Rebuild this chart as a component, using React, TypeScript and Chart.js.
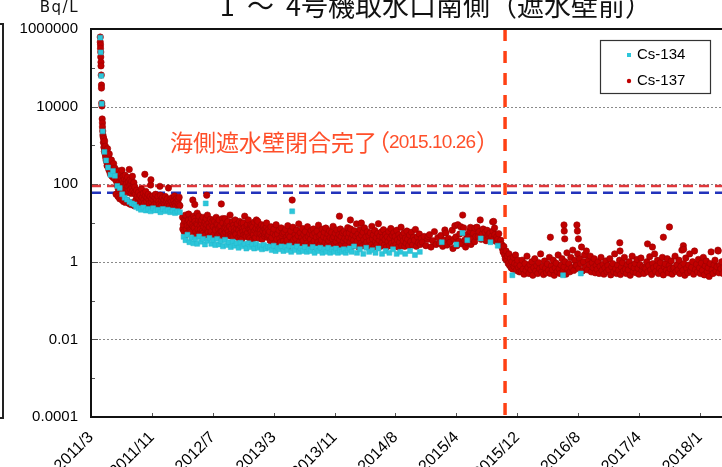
import React, { useEffect, useRef } from "react";
import { Chart, registerables } from "chart.js";

Chart.register(...registerables);

// ---------- data ----------
const xTickDays = [0, 250, 500, 750, 1000, 1250, 1500, 1750, 2000, 2250, 2500];
const xTickLabels = ["2011/3", "2011/11", "2012/7", "2013/3", "2013/11", "2014/8", "2015/4", "2015/12", "2016/8", "2017/4", "2018/1"];
const yTickValues = [0.0001, 0.01, 1, 100, 10000, 1000000];
const yTickLabels = ["0.0001", "0.01", "1", "100", "10000", "1000000"];
const seriesNames = ["Cs-134", "Cs-137"];
const limitCs137 = 90;
const limitCs134 = 60;
const wallClosedDay = 1700; // 2015.10.26
const titleText = "1  ～  4号機取水口南側（遮水壁前）";
const unitText = "Bq/L";
const annotationText = "海側遮水壁閉合完了";
const annotationDate = "2015.10.26";

type Pt = [number, number];

const cs137Spike: Pt[] = [[38,620000],[38,460000],[39,390000],[39,320000],[40,255000],[40,190000],[41,140000],[41,112000],[42,65000],[43,36000],[43,30000],[44,12300],[45,10400],[46,4800],[47,3800],[47,3000],[48,2350],[49,1860]];
const cs137Early2011: Pt[] = [[50,1650],[51,1200],[52,1500],[53,900],[54,1100],[55,700],[56,1300],[57,800],[58,600],[59,950],[60,500],[61,750],[62,420],[63,650],[64,380],[65,540],[66,300],[67,460],[68,820],[69,350],[70,280],[71,520],[72,400],[73,240],[74,330],[75,600],[76,260],[77,210],[78,380],[79,300],[80,180],[82,250],[84,420],[85,200],[86,160],[88,290],[90,230],[91,150],[93,340],[95,190],[96,140],[98,260],[100,170],
[102,210],[103,55],[104,120],[105,160],[107,95],[109,180],[110,130],[111,48],[112,75],[114,220],[115,110],[117,150],[118,42],[119,85],[120,190],[122,100],[124,140],[125,70],[126,40],[127,230],[129,120],[130,90],[132,160],[133,36],[134,65],[135,110],[137,135],[139,80],[140,170],[141,34],[142,95],[144,60],[145,125],[147,105],[148,38],[149,75],[150,150],[152,88],[154,115],[155,68],[156,32],[157,240],[159,95],[160,130],[162,72],[163,30],[164,100],[165,58],[167,120],[169,82],[170,160],[171,34],[172,66],[174,98],[176,110],[177,28],[178,60],[180,85]];
const cs137Late2011: Pt[] = [[182,55],[185,40],[187,70],[190,48],[192,35],[195,62],[197,44],[200,30],[202,52],[205,38],[207,75],[210,45],[212,28],[215,58],[217,40],[220,33],[221,180],[223,50],[225,65],[228,36],[230,45],[233,27],[235,55],[238,40],[240,32],[243,48],[245,95],[246,130],[248,35],[250,42],[253,26],[255,50],[258,38],[260,30],[263,45],[265,55],[268,33],[270,40],[273,25],[275,48],[278,36],[280,30],[283,88],[285,52],[288,28],[290,38],[293,45],[295,24],[298,35],[300,40],[303,30],[305,48],[308,26],[310,36],[313,42],[315,30],[318,80],[320,34],[323,28],[325,40],[328,24],[330,36],[333,45],[335,30],[338,26],[340,38],[343,50],[345,32],[348,28],[350,42],[353,35],[355,25],[358,40],[360,30],[362,46],[365,28]];
const cs137Y2012: Pt[] = [[376,14],[377,7],[379,9],[382,6],[383,12],[385,11],[388,16],[389,5],[391,7],[394,10],[395,8.5],[397,5.5],[400,12],[401,17],[403,8],[406,6.8],[407,10],[409,6.5],[412,13],[413,6],[415,9],[418,39],[419,8],[421,15],[424,7.5],[425,13],[426,30],[427,11],[430,6],[431,4.6],[433,9.5],[436,18],[437,9],[439,7],[442,12],[443,15],[445,5.2],[448,8.5],[449,6.8],[451,11],[454,10],[455,12],[457,6.2],[460,14],[461,5.5],[463,8],[466,4.8],[467,9.8],[469,11],[472,7],[473,13],[475,52],[476,9],[478,16],[479,6.4],[481,5.8],[484,10],[485,8],[487,7.8],[490,12.5],[491,5],[493,6],[496,9],[497,11],[499,4.5],
[502,8],[504,12],[505,5],[508,11],[510,7],[511,6.5],[514,14],[516,9.5],[517,4.5],[520,9],[522,5],[523,7],[526,12],[528,8],[529,5.5],[532,8.5],[534,6],[535,31],[538,6],[540,13],[541,10],[544,4],[546,5.3],[547,7.5],[550,13],[552,7.8],[553,5.8],[556,9],[558,10],[559,6.8],[562,11],[564,6],[565,4.8],[568,8],[570,8.2],[571,16],[574,5.2],[576,4.6],[577,7],[580,10],[582,11],[583,4.4],[586,8.8],[588,7.3],[589,6],[592,12],[594,5.4],[595,5],[598,7.2],[600,9],[601,9.5],[604,4.2],[606,6.8],[607,6.5],[610,11],[612,4.7],[613,5.5],[616,8],[618,10],[619,3.8],[622,7],[624,6],[625,10],[628,5],[630,7.7],[631,15],[634,6.3],[636,5.1],[637,4.5],[640,8.5],[642,9.2],[643,5.6],[646,12],[648,4.4],[649,7],[652,4],[654,6.9],[655,9],[658,6],[660,8.6],[661,3.6],[664,7.8],[666,5.7],[667,5],[670,10.5],[672,4.1],[673,6.5],[676,4.2],[678,7.2],[679,12],[682,5.4],[684,9],[685,11],[688,6.8],[690,5.5],[691,4],[694,7.5],[696,6.4],[697,5.2],[700,9],[702,4.5],[703,3.8],[706,6.2],[708,7.6],[709,8.4],[712,4.6],[714,5.3],[715,7],[718,5.8],[720,8],[721,10],[724,4.3],[726,4.8],[727,6.6],[730,5]];
const cs137Y2013: Pt[] = [[733,6],[736,3.5],[739,8],[742,4.2],[745,2.6],[748,5.5],[751,7],[754,3],[757,4.8],[760,9],[763,3.8],[766,5.2],[769,2.4],[772,6.5],[775,4],[778,3.2],[781,7.5],[784,4.6],[787,5.4],[790,3.4],[793,5.8],[796,2.8],[799,6.8],[802,4.3],[805,3.6],[808,8.5],[811,5],[814,2.5],[817,4.4],[820,6.2],[823,3.1],[826,39],[829,7.8],[832,3.7],[835,2.3],[838,5],[841,4],[844,6.6],[847,2.9],[850,4.7],[853,9.5],[856,3.3],[859,5.6],[862,2.7],[865,4.2],[868,7.2],[871,3.5],[874,5.1],[877,2.2],[880,6],[883,4.1],[886,3],[889,8],[892,4.5],[895,2.6],[898,5.3],[901,3.8],[904,6.4],[907,2.9],[910,4.9],[913,7],[916,3.4],[919,5.5],[922,2.4],[925,4.3],[928,6.2],[931,3.2],[934,8.8],[937,4.6],[940,2.8],[943,5],[946,3.6],[949,6.9],[952,2.5],[955,4.4],[958,5.8],[961,3.1],[964,7.4],[967,4],[970,2.7],[973,5.2],[976,3.5],[979,6.3],[982,4.2],[985,2.6],[988,5.7],[991,3.9],[994,8.2],[997,4.4],[1000,2.9],[1003,5.4],[1006,3.3],[1009,6.6],[1012,4.1],[1015,2.5],[1018,5],[1020,15],[1021,3.7],[1024,7],[1027,4.5],[1030,2.8],[1033,5.6],[1036,3.4],[1039,6.1],[1042,4],[1045,2.6],[1048,5.3],[1051,3.6],[1054,7.6],[1057,4.3]];
const cs137Y2014: Pt[] = [[1060,5.5],[1063,3.2],[1065,12],[1066,7],[1069,4],[1072,2.5],[1075,5],[1078,3.6],[1081,6.3],[1084,2.8],[1087,4.5],[1090,9.5],[1093,3.4],[1096,5.2],[1099,2.4],[1102,4.1],[1105,6.8],[1108,3],[1110,10],[1111,4.8],[1114,2.6],[1117,5.8],[1120,3.7],[1123,7.5],[1126,2.9],[1129,4.4],[1132,3.2],[1135,6],[1138,2.5],[1141,4.7],[1144,3.5],[1147,5.5],[1150,2.7],[1153,8.2],[1156,3.9],[1159,4.9],[1162,2.4],[1165,6.4],[1168,3.3],[1171,4.2],[1174,2.8],[1177,5.4],[1180,9.6],[1183,3.6],[1186,4.6],[1189,2.5],[1192,5.9],[1195,3.1],[1198,4.3],[1201,6.7],[1204,2.7],[1207,3.8],[1210,5.1],[1213,2.4],[1216,4.4],[1219,3.3],[1222,6.1],[1225,2.6],[1228,4],[1231,7.2],[1234,3],[1237,4.8],[1240,2.5],[1243,5.6],[1246,3.4],[1249,4.5],[1252,2.8],[1255,6.5],[1258,3.7],[1261,2.4],[1264,5],[1267,3.2],[1270,4.2],[1273,7.8],[1276,2.6],[1279,4.7],[1282,3.5],[1285,5.5],[1288,2.5],[1291,4.1],[1294,3],[1297,6.2],[1300,3.8],[1304,2.6],[1308,4.9],[1312,3.3],[1316,5.8],[1320,2.7],[1324,4.3],[1328,3.6],[1332,6.8],[1336,2.5],[1340,4.4],[1344,3.1],[1348,5.2],[1352,2.8],[1356,4]];
const cs137Y2015: Pt[] = [[1360,3.2],[1368,4.5],[1375,2.6],[1382,3.8],[1384,4.5],[1390,5],[1396,2.4],[1403,3.5],[1410,6],[1417,2.8],[1424,4.2],[1430,3],[1437,4.8],[1444,2.5],[1450,3.6],[1453,6.6],[1457,5.5],[1462,2.7],[1468,4],[1474,3.2],[1483,6.5],[1486,2.2],[1490,3.8],[1494,8.5],[1498,4.4],[1502,2.6],[1506,9],[1510,3.4],[1514,5.2],[1518,8],[1522,2.9],[1526,16],[1530,7.5],[1534,3.6],[1538,2.4],[1542,5],[1546,3.1],[1550,4.3],[1555,6.2],[1558,7.7],[1560,2.8],[1565,3.9],[1570,5.4],[1575,3.3],[1576,7.4],[1580,4.5],[1585,7.8],
[1590,4.5],[1594,6],[1598,12],[1602,3.8],[1606,5.2],[1610,7],[1614,4],[1618,5.8],[1622,3.5],[1626,6.5],[1630,4.8],[1634,5.2],[1638,5.5],[1642,3.6],[1646,4.6],[1649,10.7],[1650,6.2],[1653,11],[1654,4],[1657,7.5],[1658,5],[1662,3.4],[1666,4.4],[1670,3.8],[1674,5.3],[1678,3],[1682,3.6],
[1686,2.8],[1689,2.2],[1692,1.8],[1695,2.5],[1698,1.5],[1701,1.2],[1704,1.9],[1707,1.1],[1710,1.4],[1713,0.9],[1716,1.6],[1719,0.8],[1722,1.2],[1725,0.7],[1728,1],[1731,0.65],[1734,1.3],[1737,0.75],[1740,0.9],[1743,1.5],[1746,0.6],[1749,0.85],[1752,1.1],[1755,0.7],[1758,0.55]];
const cs137Y2016to2018: Pt[] = [[1762,0.8],[1766,0.55],[1770,1.1],[1774,0.65],[1778,0.48],[1782,0.9],[1786,0.6],[1790,1.4],[1794,0.72],[1798,0.5],[1802,0.85],[1806,0.62],[1810,1.0],[1814,0.45],[1818,0.7],[1822,1.2],[1826,0.58],[1830,0.8],[1834,0.5],[1838,0.95],[1842,0.66],[1846,1.6],[1850,0.55],[1854,0.75],[1858,0.47],[1862,1.05],[1866,0.68],[1870,0.52],[1874,0.88],[1878,0.6],[1882,1.3],[1886,0.5],[1890,0.78],[1894,0.62],[1898,1.1],[1902,0.45],[1906,0.7],[1910,0.92],[1914,0.56],[1918,1.5],[1922,0.66],[1926,0.5],[1930,0.82],[1934,1.2],[1938,0.58],[1942,0.74],[1946,1.0],[1950,0.48],[1954,1.7],[1958,0.64],[1962,0.9],[1966,0.55],[1970,1.3],[1974,0.7],[1978,2.0],[1982,0.6],[1986,1.1],[1990,0.8],[1994,0.8],[1998,1.6],[2002,0.66],[2006,1.2],[2010,0.9],[2014,2.4],[2018,0.58],[2022,1.0],[2026,1.5],[2030,0.72],[2034,1.9],[2038,0.62],[2042,1.1],[2046,0.85],[2050,1.4],[2054,0.55],[2058,0.95],[2062,0.7],[2066,1.2],[2070,0.52],[2074,0.8],[2078,0.64],[2082,1.0],[2086,0.5],[2090,0.76],[2094,1.3],[2098,0.6],[2102,0.86],[2106,0.48],[2110,0.7],[2114,1.05],[2118,0.56],[2122,0.8],[2126,0.62],[2130,1.2],[2134,0.46],[2138,0.74],[2142,0.9],[2146,0.55],[2150,1.6],[2154,0.66],[2158,0.5],[2162,0.82],[2166,0.6],[2170,1.1],[2174,0.47],[2178,0.72],[2182,0.95],[2186,0.58],[2190,1.3],[2194,0.64],[2198,0.5],[2202,0.85],[2206,0.62],[2210,1.0],[2214,0.45],[2218,0.78],[2222,1.4],[2226,0.56],[2230,0.7],[2234,0.9],[2238,0.52],[2242,1.15],[2246,0.68],[2250,0.48],[2254,0.84],[2258,1.25],[2262,0.6],[2266,0.74],[2270,0.5],[2274,0.7],[2278,0.66],[2282,1.0],[2286,0.55],[2290,0.8],[2294,1.35],[2298,0.62],[2302,0.47],[2306,0.9],[2310,0.7],[2314,1.6],[2318,0.56],[2322,0.78],[2326,1.1],[2330,0.5],[2334,0.68],[2338,0.95],[2342,0.58],[2346,1.3],[2350,0.46],[2354,0.74],[2358,0.88],[2362,0.6],[2366,1.2],[2370,0.52],[2374,0.8],[2378,0.66],[2382,1.05],[2386,0.48],[2390,0.65],[2394,0.7],[2398,1.4],[2402,0.56],[2406,0.84],[2410,0.62],[2414,1.1],[2418,0.5],[2422,0.76],[2426,2.0],[2430,0.6],[2434,0.9],[2438,0.45],[2442,1.25],[2446,0.68],[2450,0.52],[2454,0.82],[2458,1.6],[2462,0.58],[2466,0.72],[2470,1.0],[2474,0.48],[2478,1.9],[2482,0.64],[2486,0.86],[2490,0.55],[2494,1.15],[2498,0.7],[2502,0.5],[2506,0.92],[2510,0.6],[2514,1.3],[2518,0.46],[2522,0.78],[2526,1.05],[2530,0.56],[2534,0.7],[2538,0.42],[2542,0.9],[2546,1.8],[2550,0.62],[2554,0.5],[2558,0.84],[2562,1.1],[2566,0.58],[2570,0.74],[2574,2.0],[2578,0.52],[2582,0.8],[2586,0.66],[2590,1.0],[2594,0.5],[2598,0.72]];
const cs137Outliers2016to2018: Pt[] = [[1942,8.9],[1943,6.2],[1945,3.9],[1995,8.9],[1997,6.2],[2001,3.9],[1886,4.3],[2171,3.1],[2172,1.9],[2285,2.9],[2350,4.3],[2375,7.9],[2305,2.4],[2432,2.6],[2433,2.1],[2575,1.9]];

const cs134Spike: Pt[] = [[38,600000],[40,250000],[42,62000],[44,11800],[48,2300]];
const cs134Early2011: Pt[] = [[55,680],[62,410],[70,270],[80,175],[90,220],[98,165],[108,90],[118,80],[128,55],[138,45],[148,40],[158,35],[168,32],[178,30]];
const cs134Late2011: Pt[] = [[185,26],[195,24],[205,22],[215,25],[225,21],[235,23],[245,20],[255,24],[265,21],[275,22],[285,19],[295,23],[305,20],[315,22],[325,19],[335,21],[345,18],[355,20],[365,19]];
const cs134Y2012: Pt[] = [[380,4.4],[388,3.6],[396,5],[404,3.2],[412,4.2],[420,3],[428,3.8],[436,2.9],[444,4.5],[452,3.3],[460,3.9],[468,2.8],[471,32],[478,3.5],[486,4.1],[494,2.9],[502,3.6],[510,2.7],[518,3.9],[526,2.8],[534,3.4],[542,2.5],[550,3.7],[558,2.7],[566,3.2],[574,2.4],[582,3.3],[590,2.6],[598,3],[606,2.3],[614,3.1],[622,2.5],[630,2.9],[638,2.2],[646,3],[654,2.4],[662,2.8],[670,2.2],[678,2.9],[686,2.3],[694,2.6],[702,2.1],[710,2.7],[718,2.2],[726,2.5]];
const cs134Y2013: Pt[] = [[734,2.4],[742,2],[750,2.6],[758,1.9],[766,2.3],[774,2.1],[782,2.5],[790,1.9],[798,2.4],[806,2],[814,2.6],[822,1.8],[826,20],[830,2.3],[838,2],[846,2.5],[854,1.8],[862,2.2],[870,1.9],[878,2.4],[886,1.8],[894,2.1],[902,1.9],[910,2.4],[918,1.7],[926,2.2],[934,1.9],[942,2.3],[950,1.7],[958,2.1],[966,1.8],[974,2.3],[982,1.7],[990,2.1],[998,1.8],[1006,2.2],[1014,1.7],[1022,2],[1030,1.8],[1038,2.1],[1046,1.7],[1054,2]];
const cs134Y2014to2018: Pt[] = [[1062,2.2],[1070,1.8],[1080,2.5],[1092,1.7],[1104,2.1],[1118,1.6],[1130,2.3],[1142,1.8],[1155,2],[1168,1.7],[1180,2.2],[1195,1.6],[1210,1.9],[1225,1.7],[1240,2.1],[1255,1.6],[1270,1.8],[1290,1.6],[1310,1.9],[1330,1.5],[1350,1.8],[1440,3.2],[1500,2.8],[1525,5.5],[1545,3.6],[1600,4],[1640,3.2],[1670,2.6],[1730,0.45],[1938,0.45],[2011,0.5]];

// ---------- layout constants ----------
const CANVAS_W = 780;
const CANVAS_H = 500;
const AXIS_LEFT = 91;
const AXIS_BOTTOM = 417;
const DAYS_PER_PX = 250 / 61.3;
const X_MAX = (CANVAS_W - AXIS_LEFT) * DAYS_PER_PX;

const FONT = "'Liberation Sans', Arial, sans-serif";
const CJK = "'Noto Sans CJK JP', 'Noto Sans CJK SC', sans-serif";
const RED = "#C00000";
const CYAN = "#2CC6DA";

const toXY = (...parts: Pt[][]) => parts.flat().map(([x, y]) => ({ x, y }));

const decor = {
  id: "decor",
  beforeDatasetsDraw(chart: any) {
    const { ctx, chartArea: a, scales } = chart;
    const y = scales.y;
    const x = scales.x;
    ctx.save();
    ctx.strokeStyle = "#8a8a8a";
    ctx.lineWidth = 1;
    ctx.setLineDash([2, 2]);
    yTickValues.forEach((v) => {
      const py = Math.round(y.getPixelForValue(v)) + 0.5;
      if (py > a.top + 3 && py < a.bottom - 3) {
        ctx.beginPath();
        ctx.moveTo(a.left, py);
        ctx.lineTo(a.right, py);
        ctx.stroke();
      }
    });
    ctx.setLineDash([]);
    ctx.strokeStyle = "#555";
    for (let e = -4; e <= 6; e++) {
      const py = Math.round(y.getPixelForValue(Math.pow(10, e))) + 0.5;
      const len = e % 2 === 0 ? 7 : 4;
      ctx.beginPath();
      ctx.moveTo(a.left, py);
      ctx.lineTo(a.left + len, py);
      ctx.stroke();
    }
    xTickDays.forEach((d) => {
      const px = Math.round(x.getPixelForValue(d)) + 0.5;
      ctx.beginPath();
      ctx.moveTo(px, a.bottom);
      ctx.lineTo(px, a.bottom - 4);
      ctx.stroke();
    });
    ctx.restore();
  },
  afterDatasetsDraw(chart: any) {
    const { ctx, chartArea: a } = chart;
    ctx.save();
    ctx.strokeStyle = "#111";
    ctx.lineWidth = 2;
    ctx.beginPath();
    ctx.moveTo(a.right + 2, a.top);
    ctx.lineTo(a.left, a.top);
    ctx.lineTo(a.left, a.bottom);
    ctx.lineTo(a.right + 2, a.bottom);
    ctx.stroke();

    ctx.lineWidth = 2;
    ctx.strokeStyle = "#222";
    ctx.beginPath();
    ctx.moveTo(0, 24);
    ctx.lineTo(3, 24);
    ctx.lineTo(3, 418);
    ctx.lineTo(0, 418);
    ctx.stroke();

    // annotation
    ctx.fillStyle = "#FF4F2A";
    ctx.textBaseline = "middle";
    ctx.textAlign = "left";
    ctx.font = `23px ${CJK}`;
    ctx.fillText(annotationText, 170, 142);
    const ax = 170 + ctx.measureText(annotationText).width;
    ctx.fillText("（", ax - 10, 142);
    ctx.font = `19px ${FONT}`;
    (ctx as any).letterSpacing = "-0.9px";
    ctx.fillText(annotationDate, 389, 143);
    const dw = ctx.measureText(annotationDate).width;
    (ctx as any).letterSpacing = "0px";
    ctx.font = `23px ${CJK}`;
    ctx.fillText("）", 389 + dw + 1, 142);

    // legend
    ctx.fillStyle = "#fff";
    ctx.fillRect(600, 40, 110, 53);
    ctx.strokeStyle = "#333";
    ctx.lineWidth = 1.2;
    ctx.strokeRect(600.5, 40.5, 110, 53);
    ctx.fillStyle = CYAN;
    ctx.fillRect(627, 53, 4, 4);
    ctx.fillStyle = RED;
    ctx.beginPath();
    ctx.arc(629, 81, 2.2, 0, Math.PI * 2);
    ctx.fill();
    ctx.fillStyle = "#000";
    ctx.font = `15px ${FONT}`;
    ctx.textBaseline = "middle";
    ctx.fillText(seriesNames[0], 637, 55);
    ctx.fillText(seriesNames[1], 637, 81);

    // title (cut off at the top)
    ctx.font = `27px ${CJK}`;
    ctx.textAlign = "right";
    ctx.textBaseline = "alphabetic";
    ctx.fillStyle = "#111";
    ctx.fillText(titleText, 652, 16);

    // unit
    ctx.font = `15px 'DejaVu Sans', ${FONT}`;
    (ctx as any).letterSpacing = "1.5px";
    ctx.textAlign = "right";
    ctx.fillText(unitText, 79, 12);
    ctx.restore();
  },
};

export default function App() {
  const ref = useRef<HTMLCanvasElement>(null);

  useEffect(() => {
    const canvas = ref.current;
    if (!canvas) return;
    const chart = new Chart(canvas, {
      type: "scatter",
      data: {
        datasets: [
          {
            label: seriesNames[0],
            data: toXY(cs134Spike, cs134Early2011, cs134Late2011, cs134Y2012, cs134Y2013, cs134Y2014to2018),
            pointStyle: "rect",
            pointRadius: 3.5,
            pointBackgroundColor: CYAN,
            pointBorderColor: "#22B8CC",
            pointBorderWidth: 0.5,
          },
          {
            label: seriesNames[1],
            data: toXY(cs137Spike, cs137Early2011, cs137Late2011, cs137Y2012, cs137Y2013, cs137Y2014, cs137Y2015, cs137Y2016to2018, cs137Outliers2016to2018),
            pointStyle: "circle",
            pointRadius: 3.2,
            pointBackgroundColor: RED,
            pointBorderColor: "#9A0000",
            pointBorderWidth: 0.6,
          },
          {
            label: "limit137",
            data: [{ x: 0, y: limitCs137 }, { x: X_MAX, y: limitCs137 }],
            showLine: true,
            pointRadius: 0,
            borderColor: "#E0383C",
            borderWidth: 2.5,
            borderDash: [10, 6],
          },
          {
            label: "limit134",
            data: [{ x: 0, y: limitCs134 }, { x: X_MAX, y: limitCs134 }],
            showLine: true,
            pointRadius: 0,
            borderColor: "#2233BB",
            borderWidth: 2.5,
            borderDash: [10, 6],
          },
          {
            label: "wall",
            data: [{ x: wallClosedDay, y: 1000000 }, { x: wallClosedDay, y: 0.0001 }],
            showLine: true,
            pointRadius: 0,
            borderColor: "#FF4013",
            borderWidth: 3.5,
            borderDash: [12, 10],
          },
        ],
      } as any,
      options: {
        animation: false,
        responsive: false,
        devicePixelRatio: 1,
        events: [],
        layout: { padding: { top: 29, left: 0, right: 0, bottom: 0 } },
        plugins: {
          legend: { display: false },
          title: { display: false },
          tooltip: { enabled: false },
        },
        scales: {
          x: {
            type: "linear",
            min: 0,
            max: X_MAX,
            border: { display: false },
            grid: { display: false, drawTicks: false },
            afterBuildTicks: (s: any) => {
              s.ticks = xTickDays.map((v) => ({ value: v }));
            },
            afterFit: (s: any) => {
              s.height = CANVAS_H - AXIS_BOTTOM;
            },
            ticks: {
              autoSkip: false,
              maxRotation: 45,
              minRotation: 45,
              padding: 11,
              color: "#000",
              font: { family: FONT, size: 16 },
              callback: (_v: any, i: number) => xTickLabels[i] ?? "",
            },
          },
          y: {
            type: "logarithmic",
            min: 0.0001,
            max: 1000000,
            border: { display: false },
            grid: { display: false, drawTicks: false },
            afterBuildTicks: (s: any) => {
              s.ticks = yTickValues.map((v) => ({ value: v }));
            },
            afterFit: (s: any) => {
              s.width = AXIS_LEFT;
            },
            ticks: {
              padding: 13,
              color: "#000",
              font: { family: FONT, size: 15 },
              callback: (_v: any, i: number) => yTickLabels[i] ?? "",
            },
          },
        },
      } as any,
      plugins: [decor],
    });
    return () => chart.destroy();
  }, []);

  return (
    <div
      style={{
        position: "fixed",
        left: 0,
        top: 0,
        width: 722,
        height: 467,
        overflow: "hidden",
        background: "#fff",
      }}
    >
      <canvas
        ref={ref}
        width={CANVAS_W}
        height={CANVAS_H}
        style={{ display: "block", width: CANVAS_W, height: CANVAS_H }}
      />
    </div>
  );
}
